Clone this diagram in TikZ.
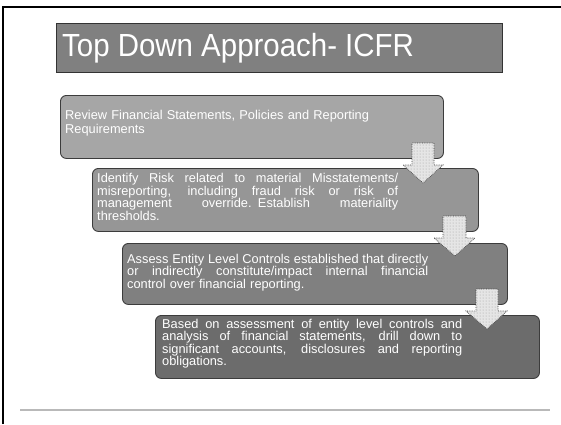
\documentclass[tikz,border=0pt]{standalone}
\usepackage{fontspec}
\setmainfont{Liberation Sans}
\newfontfamily\titlefont[FakeStretch=0.92]{Liberation Sans}
\usetikzlibrary{patterns}
\definecolor{titlefill}{RGB}{128,128,128}
\definecolor{cone}{RGB}{166,166,166}
\definecolor{ctwo}{RGB}{150,150,150}
\definecolor{cthree}{RGB}{128,128,128}
\definecolor{cfour}{RGB}{108,108,108}
\definecolor{boxline}{RGB}{60,60,60}
\newcommand{\jline}[2]{\leavevmode\hbox to #1{\spaceskip=0.28em plus 1fil\relax #2}}
\begin{document}
\begin{tikzpicture}[x=1pt,y=-1pt,
  stepbox/.style={draw=boxline, line width=0.9pt, rounded corners=6pt, anchor=north west, inner sep=0pt},
  steptext/.style={anchor=base west, inner sep=0pt, text=white, align=left, font=\fontsize{12.8}{12.6}\selectfont},
  blockarrow/.style={fill=gray!20, postaction={pattern=dots, pattern color=gray!75}, draw=black!75, densely dotted, line width=0.7pt}]
\useasboundingbox (0,0) rectangle (561,424);
% slide frame
\draw[line width=2pt] (3,424) -- (3,7) -- (561,7);
\draw[gray!55, line width=1.5pt] (20,410) -- (550,410);
% title
\node[draw=black!80, fill=titlefill, line width=1pt, minimum width=446pt, minimum height=49pt, anchor=north west, inner sep=0pt] (title) at (56,23) {};
\node[anchor=base west, inner sep=0pt, text=white, font=\titlefont\fontsize{32}{32}\selectfont] (titletext) at (62,56) {Top Down Approach- ICFR};
% boxes
\node[stepbox, fill=cone, minimum width=383pt, minimum height=63pt] (b1) at (60,95) {};
\node[stepbox, fill=ctwo, minimum width=386pt, minimum height=63pt] (b2) at (92,168) {};
\node[stepbox, fill=cthree, minimum width=385pt, minimum height=61pt] (b3) at (122,243) {};
\node[stepbox, fill=cfour, minimum width=384pt, minimum height=63pt] (b4) at (155,315) {};
% texts
\node[steptext, text width=320pt, font=\fontsize{12.8}{14}\selectfont] (t1) at (65,119) {Review Financial Statements, Policies and Reporting\\Requirements};
\node[steptext, text width=301pt] (t2) at (97,182.7) {\jline{301pt}{Identify Risk related to material Misstatements/}\\
\jline{301pt}{misreporting, including fraud risk or risk of}\\
\jline{301pt}{management override. Establish materiality}\\
thresholds.};
\node[steptext, text width=301pt] (t3) at (127,263) {\jline{301pt}{Assess Entity Level Controls established that directly}\\
\jline{301pt}{or indirectly constitute/impact internal financial}\\
control over financial reporting.};
\node[steptext, text width=300pt] (t4) at (162,328) {\jline{300pt}{Based on assessment of entity level controls and}\\
\jline{300pt}{analysis of financial statements, drill down to}\\
\jline{300pt}{significant accounts, disclosures and reporting}\\
obligations.};
% block arrows
\draw[blockarrow] (412,143) -- (434,143) -- (434,165) -- (443,165) -- (423,183) -- (403,165) -- (412,165) -- cycle;
\draw[blockarrow] (443,216) -- (466,216) -- (466,238) -- (475,238) -- (455,256) -- (434,238) -- (443,238) -- cycle;
\draw[blockarrow] (476,289) -- (498,289) -- (498,311) -- (507,311) -- (487,329) -- (466,311) -- (476,311) -- cycle;
\end{tikzpicture}
\end{document}
